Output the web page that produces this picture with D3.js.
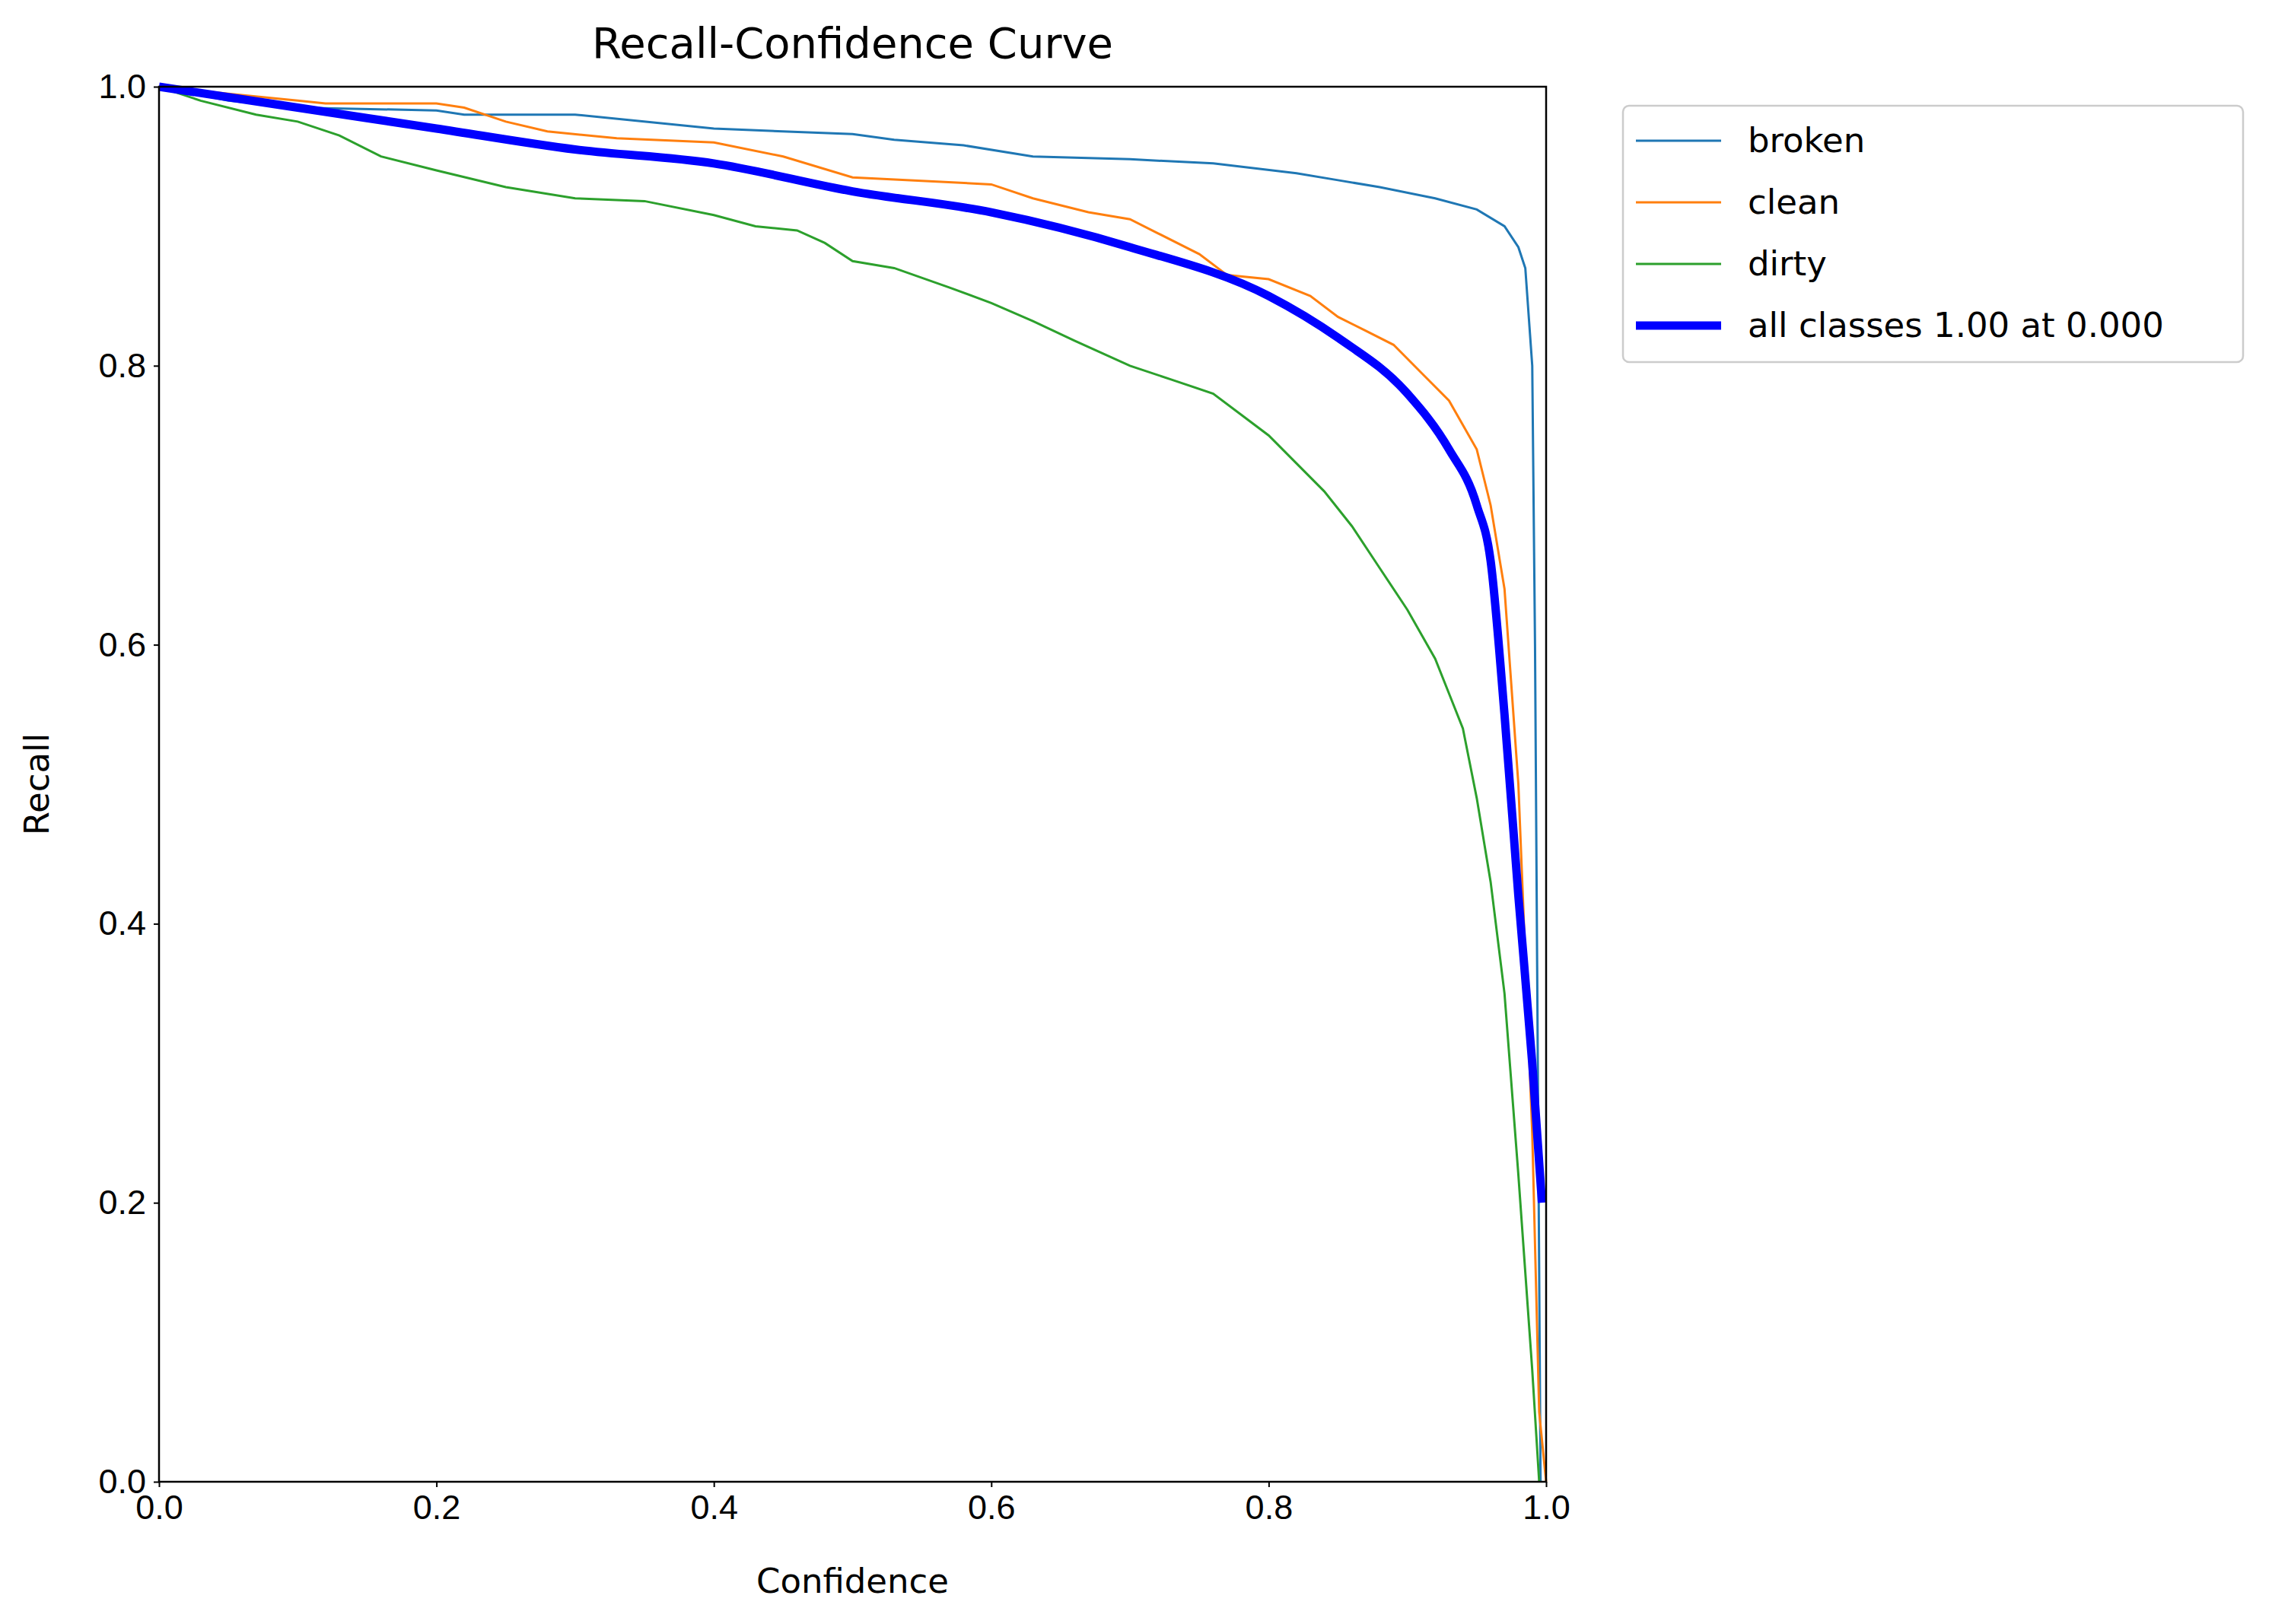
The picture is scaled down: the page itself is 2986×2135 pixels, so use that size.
<!DOCTYPE html>
<html><head><meta charset="utf-8">
<script src="https://cdn.jsdelivr.net/npm/d3@7"></script>
<style>body{margin:0;background:#fff}svg{font-family:"DejaVu Sans",sans-serif}</style>
</head><body>
<script>
const xTicks=[0,0.2,0.4,0.6,0.8,1.0];
const yTicks=[0,0.2,0.4,0.6,0.8,1.0];
const seriesNames=["broken","clean","dirty","all classes 1.00 at 0.000"];
const seriesColors=["#1f77b4","#ff7f0e","#2ca02c","#0000ff"];
const broken=[[0,1],[0.05,0.99],[0.1,0.985],[0.2,0.983],[0.22,0.98],[0.3,0.98],[0.4,0.97],[0.5,0.966],[0.53,0.962],[0.58,0.958],[0.63,0.95],[0.7,0.948],[0.76,0.945],[0.82,0.938],[0.85,0.933],[0.88,0.928],[0.92,0.92],[0.95,0.912],[0.97,0.9],[0.98,0.885],[0.985,0.87],[0.99,0.8],[0.992,0.6],[0.994,0.3],[0.996,0.0]];
const clean=[[0,1],[0.05,0.995],[0.1,0.99],[0.12,0.988],[0.2,0.988],[0.22,0.985],[0.25,0.975],[0.28,0.968],[0.33,0.963],[0.4,0.96],[0.45,0.95],[0.5,0.935],[0.6,0.93],[0.63,0.92],[0.67,0.91],[0.7,0.905],[0.72,0.895],[0.75,0.88],[0.77,0.865],[0.8,0.862],[0.83,0.85],[0.85,0.835],[0.87,0.825],[0.89,0.815],[0.91,0.795],[0.93,0.775],[0.95,0.74],[0.96,0.7],[0.97,0.64],[0.98,0.5],[0.99,0.25],[0.995,0.05],[1,0]];
const dirty=[[0,1],[0.03,0.99],[0.07,0.98],[0.1,0.975],[0.13,0.965],[0.16,0.95],[0.2,0.94],[0.25,0.928],[0.3,0.92],[0.35,0.918],[0.4,0.908],[0.43,0.9],[0.46,0.897],[0.48,0.888],[0.5,0.875],[0.53,0.87],[0.57,0.856],[0.6,0.845],[0.63,0.832],[0.66,0.818],[0.7,0.8],[0.73,0.79],[0.76,0.78],[0.78,0.765],[0.8,0.75],[0.82,0.73],[0.84,0.71],[0.86,0.685],[0.88,0.655],[0.9,0.625],[0.92,0.59],[0.93,0.565],[0.94,0.54],[0.95,0.49],[0.96,0.43],[0.97,0.35],[0.98,0.22],[0.99,0.08],[0.995,0]];
const allClasses=[[0,1],[0.1,0.985],[0.2,0.97],[0.3,0.955],[0.4,0.945],[0.5,0.925],[0.6,0.91],[0.7,0.885],[0.8,0.85],[0.85,0.82],[0.9,0.78],[0.93,0.74],[0.95,0.7],[0.96,0.66],[0.97,0.55],[0.98,0.42],[0.99,0.3],[0.997,0.2]];
const data=[broken,clean,dirty,allClasses];
const W=2986,H=2135,L=209,R=2032,T=114,B=1948;
const svg=d3.select("body").append("svg").attr("width",W).attr("height",H);
const x=d3.scaleLinear().domain([0,1]).range([L,R]);
const y=d3.scaleLinear().domain([0,1]).range([B,T]);
const fs=45;
const gx=svg.append("g").attr("transform",`translate(0,${B})`).call(d3.axisBottom(x).tickValues(xTicks).tickFormat(d3.format(".1f")).tickSize(7).tickPadding(10));
const gy=svg.append("g").attr("transform",`translate(${L},0)`).call(d3.axisLeft(y).tickValues(yTicks).tickFormat(d3.format(".1f")).tickSize(7).tickPadding(10));
[gx,gy].forEach(g=>{g.selectAll("text").style("font-size",fs+"px").attr("fill","#000");g.select(".domain").remove();g.selectAll("line").attr("stroke-width",2);});
const line=d3.line().x(d=>x(d[0])).y(d=>y(d[1]));
const smooth=d3.line().x(d=>x(d[0])).y(d=>y(d[1])).curve(d3.curveMonotoneX);
data.forEach((s,i)=>svg.append("path").attr("d",(i==3?smooth:line)(s)).attr("fill","none").attr("stroke",seriesColors[i]).attr("stroke-width",i==3?11:3));
svg.append("rect").attr("x",L).attr("y",T).attr("width",R-L).attr("height",B-T).attr("fill","none").attr("stroke","#000").attr("stroke-width",2.5);
svg.append("text").attr("x",(L+R)/2).attr("y",76).attr("text-anchor","middle").style("font-size","56px").text("Recall-Confidence Curve");
svg.append("text").attr("x",(L+R)/2).attr("y",2094).attr("text-anchor","middle").style("font-size",fs+"px").text("Confidence");
svg.append("text").attr("transform",`translate(64,${(T+B)/2}) rotate(-90)`).attr("text-anchor","middle").style("font-size",fs+"px").text("Recall");
const lg=svg.append("g");
lg.append("rect").attr("x",2133).attr("y",139).attr("width",815).attr("height",337).attr("rx",8).attr("fill","#fff").attr("stroke","#ccc").attr("stroke-width",2.5);
seriesNames.forEach((n,i)=>{const yy=185+i*81;
lg.append("line").attr("x1",2150).attr("x2",2262).attr("y1",yy).attr("y2",yy).attr("stroke",seriesColors[i]).attr("stroke-width",i==3?11:3);
lg.append("text").attr("x",2297).attr("y",yy+15).style("font-size",fs+"px").text(n);});
</script></body></html>
